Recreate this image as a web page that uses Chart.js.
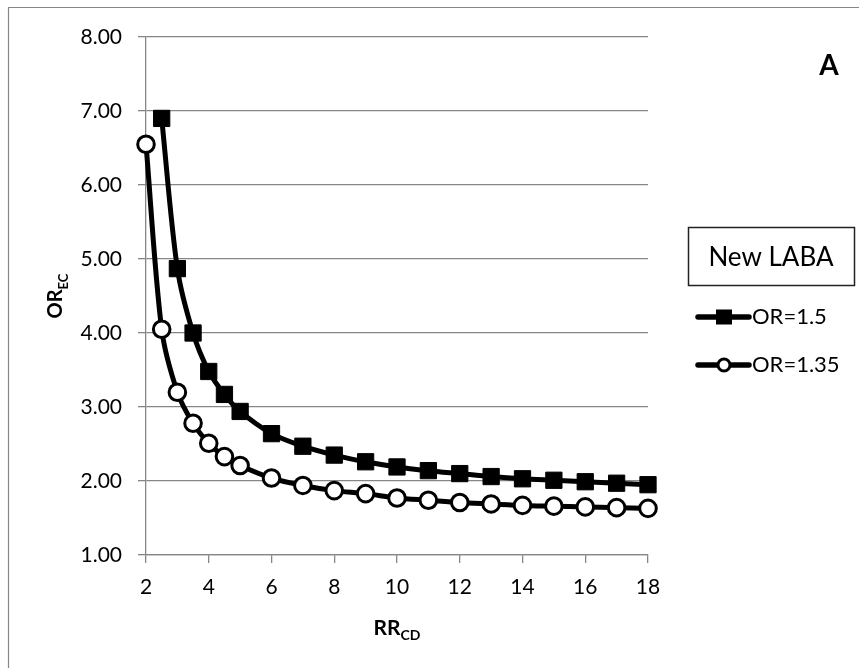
<!DOCTYPE html>
<html>
<head>
<meta charset="utf-8">
<script src="https://cdn.jsdelivr.net/npm/chart.js@4/dist/chart.umd.min.js"></script>
<style>
  html, body { margin: 0; padding: 0; background: #fff; overflow: hidden; }
  #wrap { position: relative; width: 859px; height: 668px; }
</style>
</head>
<body>
<div id="wrap"><canvas id="myChart" width="859" height="668"></canvas></div>
<script>
const rrValues = [2, 2.5, 3, 3.5, 4, 4.5, 5, 6, 7, 8, 9, 10, 11, 12, 13, 14, 15, 16, 17, 18];
const or150 = [null, 6.90, 4.87, 4.00, 3.48, 3.17, 2.94, 2.64, 2.47, 2.35, 2.26, 2.19, 2.14, 2.10, 2.06, 2.03, 2.01, 1.99, 1.97, 1.95];
const or135 = [6.55, 4.05, 3.20, 2.78, 2.51, 2.33, 2.21, 2.04, 1.94, 1.87, 1.83, 1.77, 1.74, 1.71, 1.69, 1.67, 1.66, 1.65, 1.64, 1.63];
const seriesLabels = ['OR=1.5', 'OR=1.35'];
const legendTitle = 'New LABA';
const panelLetter = 'A';
const xTicks = [2, 4, 6, 8, 10, 12, 14, 16, 18];
const yTicks = [1, 2, 3, 4, 5, 6, 7, 8];

const gridColor = '#868686';
const fontName = 'Lato, "Open Sans", sans-serif';

function toPoints(xs, ys){
    const pts = [];
    xs.forEach((x, i) => {
        if(ys[i] !== null) pts.push({x: x, y: ys[i]});
    });
    return pts;
}

// text with a subscript, drawn from (x,y) on the baseline
function drawSub(ctx, main, sub, x, y, mainSize, subSize, shift){
    ctx.font = 'bold ' + mainSize + 'px ' + fontName;
    ctx.fillText(main, x, y);
    const w = ctx.measureText(main).width;
    ctx.font = 'bold ' + subSize + 'px ' + fontName;
    ctx.fillText(sub, x + w, y + shift);
}

function subWidth(ctx, main, sub, mainSize, subSize){
    ctx.font = 'bold ' + mainSize + 'px ' + fontName;
    const w1 = ctx.measureText(main).width;
    ctx.font = 'bold ' + subSize + 'px ' + fontName;
    return w1 + ctx.measureText(sub).width;
}

const extras = {
    id: 'extras',
    beforeDraw(chart){
        const ctx = chart.ctx;
        ctx.save();
        ctx.strokeStyle = gridColor;
        ctx.lineWidth = 1.2;
        ctx.beginPath();
        ctx.moveTo(8.5, 668);
        ctx.lineTo(8.5, 7.5);
        ctx.lineTo(859, 7.5);
        ctx.stroke();
        ctx.restore();
    },
    afterDraw(chart){
        const ctx = chart.ctx;
        const area = chart.chartArea;
        ctx.save();
        ctx.fillStyle = '#000';
        ctx.textAlign = 'left';
        ctx.textBaseline = 'alphabetic';

        // x title
        const xw = subWidth(ctx, 'RR', 'CD', 21, 14);
        const xc = (area.left + area.right) / 2;
        drawSub(ctx, 'RR', 'CD', xc - xw / 2, 635, 21, 14, 5);

        // y title, rotated
        const yw = subWidth(ctx, 'OR', 'EC', 20, 13);
        ctx.save();
        ctx.translate(62, 296 + yw / 2);
        ctx.rotate(-Math.PI / 2);
        drawSub(ctx, 'OR', 'EC', 0, 0, 20, 13, 6);
        ctx.restore();

        // panel letter
        ctx.font = 'bold 28px ' + fontName;
        ctx.textAlign = 'center';
        ctx.fillText(panelLetter, 829, 75);

        // legend title box
        ctx.strokeStyle = '#222';
        ctx.lineWidth = 1.5;
        ctx.strokeRect(688.5, 227.5, 166, 58);
        ctx.font = '26px ' + fontName;
        ctx.textBaseline = 'middle';
        ctx.fillText(legendTitle, 771, 258);

        // legend items
        const rows = [317, 365];
        chart.data.datasets.forEach((ds, i) => {
            const y = rows[i];
            ctx.strokeStyle = '#000';
            ctx.lineWidth = 5.5;
            ctx.lineCap = 'round';
            ctx.beginPath();
            ctx.moveTo(698, y);
            ctx.lineTo(749, y);
            ctx.stroke();
            if(ds.pointStyle === 'rect'){
                ctx.fillStyle = '#000';
                ctx.fillRect(716, y - 7.5, 16, 15);
            }else{
                ctx.fillStyle = '#fff';
                ctx.lineWidth = 3;
                ctx.beginPath();
                ctx.arc(724, y, 6, 0, Math.PI * 2);
                ctx.fill();
                ctx.stroke();
            }
            ctx.fillStyle = '#000';
            ctx.font = '22px ' + fontName;
            ctx.textAlign = 'left';
            ctx.fillText(ds.label, 752, y);
        });
        ctx.restore();
    }
};

function createChart(element){
    const ctx = element.getContext('2d');
    new Chart(ctx, {
        type: 'line',
        data: {
            datasets: [{
                label: seriesLabels[0],
                data: toPoints(rrValues, or150),
                borderColor: '#000',
                borderWidth: 5,
                tension: 0.3,
                pointStyle: 'rect',
                pointRadius: 11.5,
                pointBackgroundColor: '#000',
                pointBorderColor: '#000',
                pointBorderWidth: 1,
                clip: false
            }, {
                label: seriesLabels[1],
                data: toPoints(rrValues, or135),
                borderColor: '#000',
                borderWidth: 5,
                tension: 0.3,
                pointStyle: 'circle',
                pointRadius: 8.3,
                pointBackgroundColor: '#fff',
                pointBorderColor: '#000',
                pointBorderWidth: 3,
                clip: false
            }]
        },
        options: {
            responsive: false,
            animation: false,
            events: [],
            layout: { padding: { top: 37, right: 211, left: 0, bottom: 0 } },
            plugins: {
                legend: { display: false },
                tooltip: { enabled: false }
            },
            scales: {
                x: {
                    type: 'linear',
                    min: xTicks[0],
                    max: xTicks[xTicks.length - 1],
                    afterBuildTicks: s => { s.ticks = xTicks.map(v => ({value: v})); },
                    afterFit: s => { s.height = 113; },
                    ticks: {
                        color: '#000',
                        padding: 12,
                        maxRotation: 0,
                        font: { family: fontName, size: 21 }
                    },
                    grid: {
                        drawOnChartArea: false,
                        drawTicks: true,
                        tickLength: 8,
                        color: gridColor,
                        lineWidth: 1.3
                    },
                    border: { color: gridColor, width: 1.3 }
                },
                y: {
                    min: yTicks[0],
                    max: yTicks[yTicks.length - 1],
                    afterBuildTicks: s => { s.ticks = yTicks.map(v => ({value: v})); },
                    afterFit: s => { s.width = 146; },
                    ticks: {
                        color: '#000',
                        padding: 16,
                        font: { family: fontName, size: 21 },
                        callback: v => v.toFixed(2)
                    },
                    grid: {
                        tickLength: 8,
                        color: gridColor,
                        lineWidth: 1.3
                    },
                    border: { color: gridColor, width: 1.3 }
                }
            }
        },
        plugins: [extras]
    });
}

createChart(document.getElementById('myChart'));
</script>
</body>
</html>
